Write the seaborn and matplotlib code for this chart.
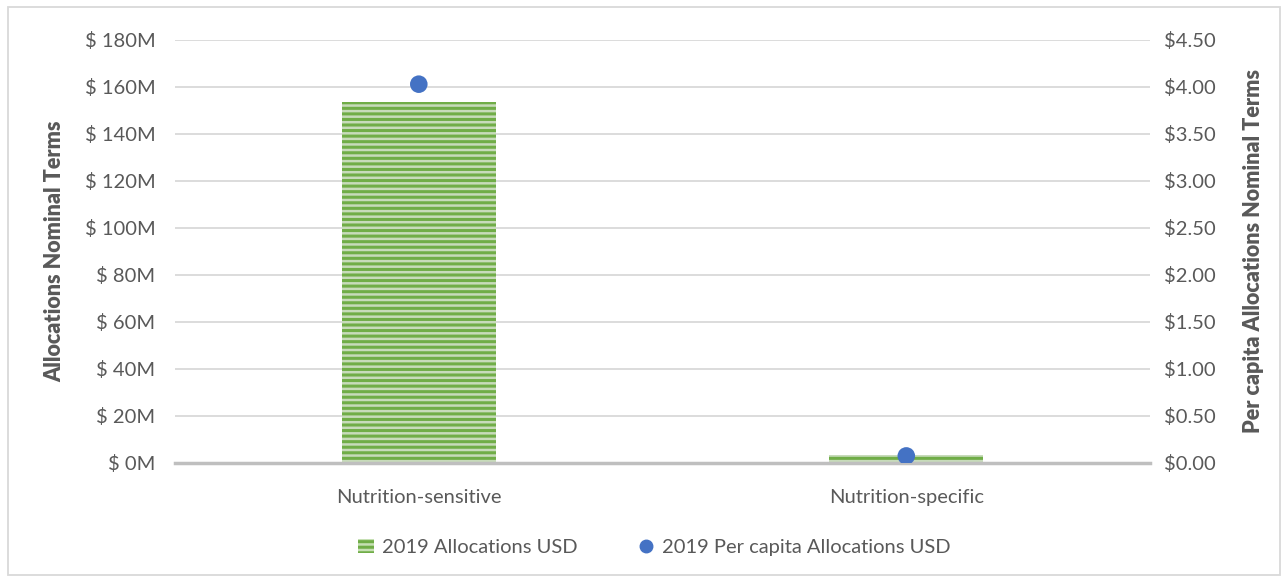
import pandas as pd
import matplotlib.pyplot as plt
import matplotlib.patches as mpatches
from matplotlib.lines import Line2D
import seaborn as sns

categorias = ['Nutrition-sensitive', 'Nutrition-specific']
asignaciones = [153.6, 3.4]          # millones USD
per_capita = [4.03, 0.075]           # USD por persona
ticks_izq = [0, 20, 40, 60, 80, 100, 120, 140, 160, 180]
ticks_der = [0, 0.5, 1.0, 1.5, 2.0, 2.5, 3.0, 3.5, 4.0, 4.5]

sns.set_style('white')
plt.rcParams['font.family'] = ['Lato', 'DejaVu Sans']
plt.rcParams['hatch.linewidth'] = 2.2
gris = '#595959'

df = pd.DataFrame({'cat': categorias, 'alloc': asignaciones, 'pc': per_capita})

fig = plt.figure(figsize=(12.88, 5.78), dpi=100)
ax = fig.add_axes([0.1359, 0.199, 0.757, 0.7318])

sns.barplot(data=df, x='cat', y='alloc', ax=ax, width=0.316,
            color='#c6e0b4', edgecolor='#70ad47', linewidth=0, hatch='---')
for p in ax.patches:
    p.set_hatch('---')
    p.set_edgecolor('#70ad47')

ax.set_ylim(0, 180)
ax.set_yticks(ticks_izq)
ax.set_yticklabels([f'$ {t}M' for t in ticks_izq])
ax.set_xlim(-0.5, 1.5)
ax.set_xlabel('')
ax.set_ylabel('Allocations Nominal Terms', fontsize=15.5, fontweight='heavy', color=gris,
              labelpad=14)
ax.grid(axis='y', color='#d9d9d9', linewidth=1.3)
ax.set_axisbelow(True)
for s in ['top', 'right', 'left']:
    ax.spines[s].set_visible(False)
ax.spines['bottom'].set_color('#bfbfbf')
ax.spines['bottom'].set_linewidth(2.5)
ax.tick_params(axis='both', length=0, labelsize=14.5, colors=gris, pad=14)
ax.tick_params(axis='x', pad=19)

ax2 = ax.twinx()
sns.scatterplot(data=df, x='cat', y='pc', ax=ax2, color='#4472c4', s=160,
                edgecolor='none', zorder=5, legend=False)
ax2.set_ylim(0, 4.5)
ax2.set_yticks(ticks_der)
ax2.set_yticklabels([f'${t:.2f}' for t in ticks_der])
ax2.set_xlim(-0.5, 1.5)
ax2.set_ylabel('Per capita Allocations Nominal Terms', fontsize=15.5,
               fontweight='heavy', color=gris, labelpad=20)
for s in ax2.spines.values():
    s.set_visible(False)
ax2.tick_params(axis='y', length=0, labelsize=14.5, colors=gris, pad=10)

handles = [mpatches.Patch(facecolor='#c6e0b4', edgecolor='#70ad47', hatch='---', linewidth=0),
           Line2D([], [], marker='o', linestyle='none', color='#4472c4', markersize=9)]
leg = fig.legend(handles, ['2019 Allocations USD', '2019 Per capita Allocations USD'],
                 loc='center', bbox_to_anchor=(0.508, 0.052), ncol=2, frameon=False,
                 fontsize=14.5, handlelength=0.8, handletextpad=0.4, columnspacing=3)
for t in leg.get_texts():
    t.set_color(gris)

fig.patches.append(mpatches.Rectangle((0.006, 0.005), 0.988, 0.983, transform=fig.transFigure,
                                      fill=False, edgecolor='#d9d9d9', linewidth=1.3))

fig.savefig('out.png', dpi=100)
